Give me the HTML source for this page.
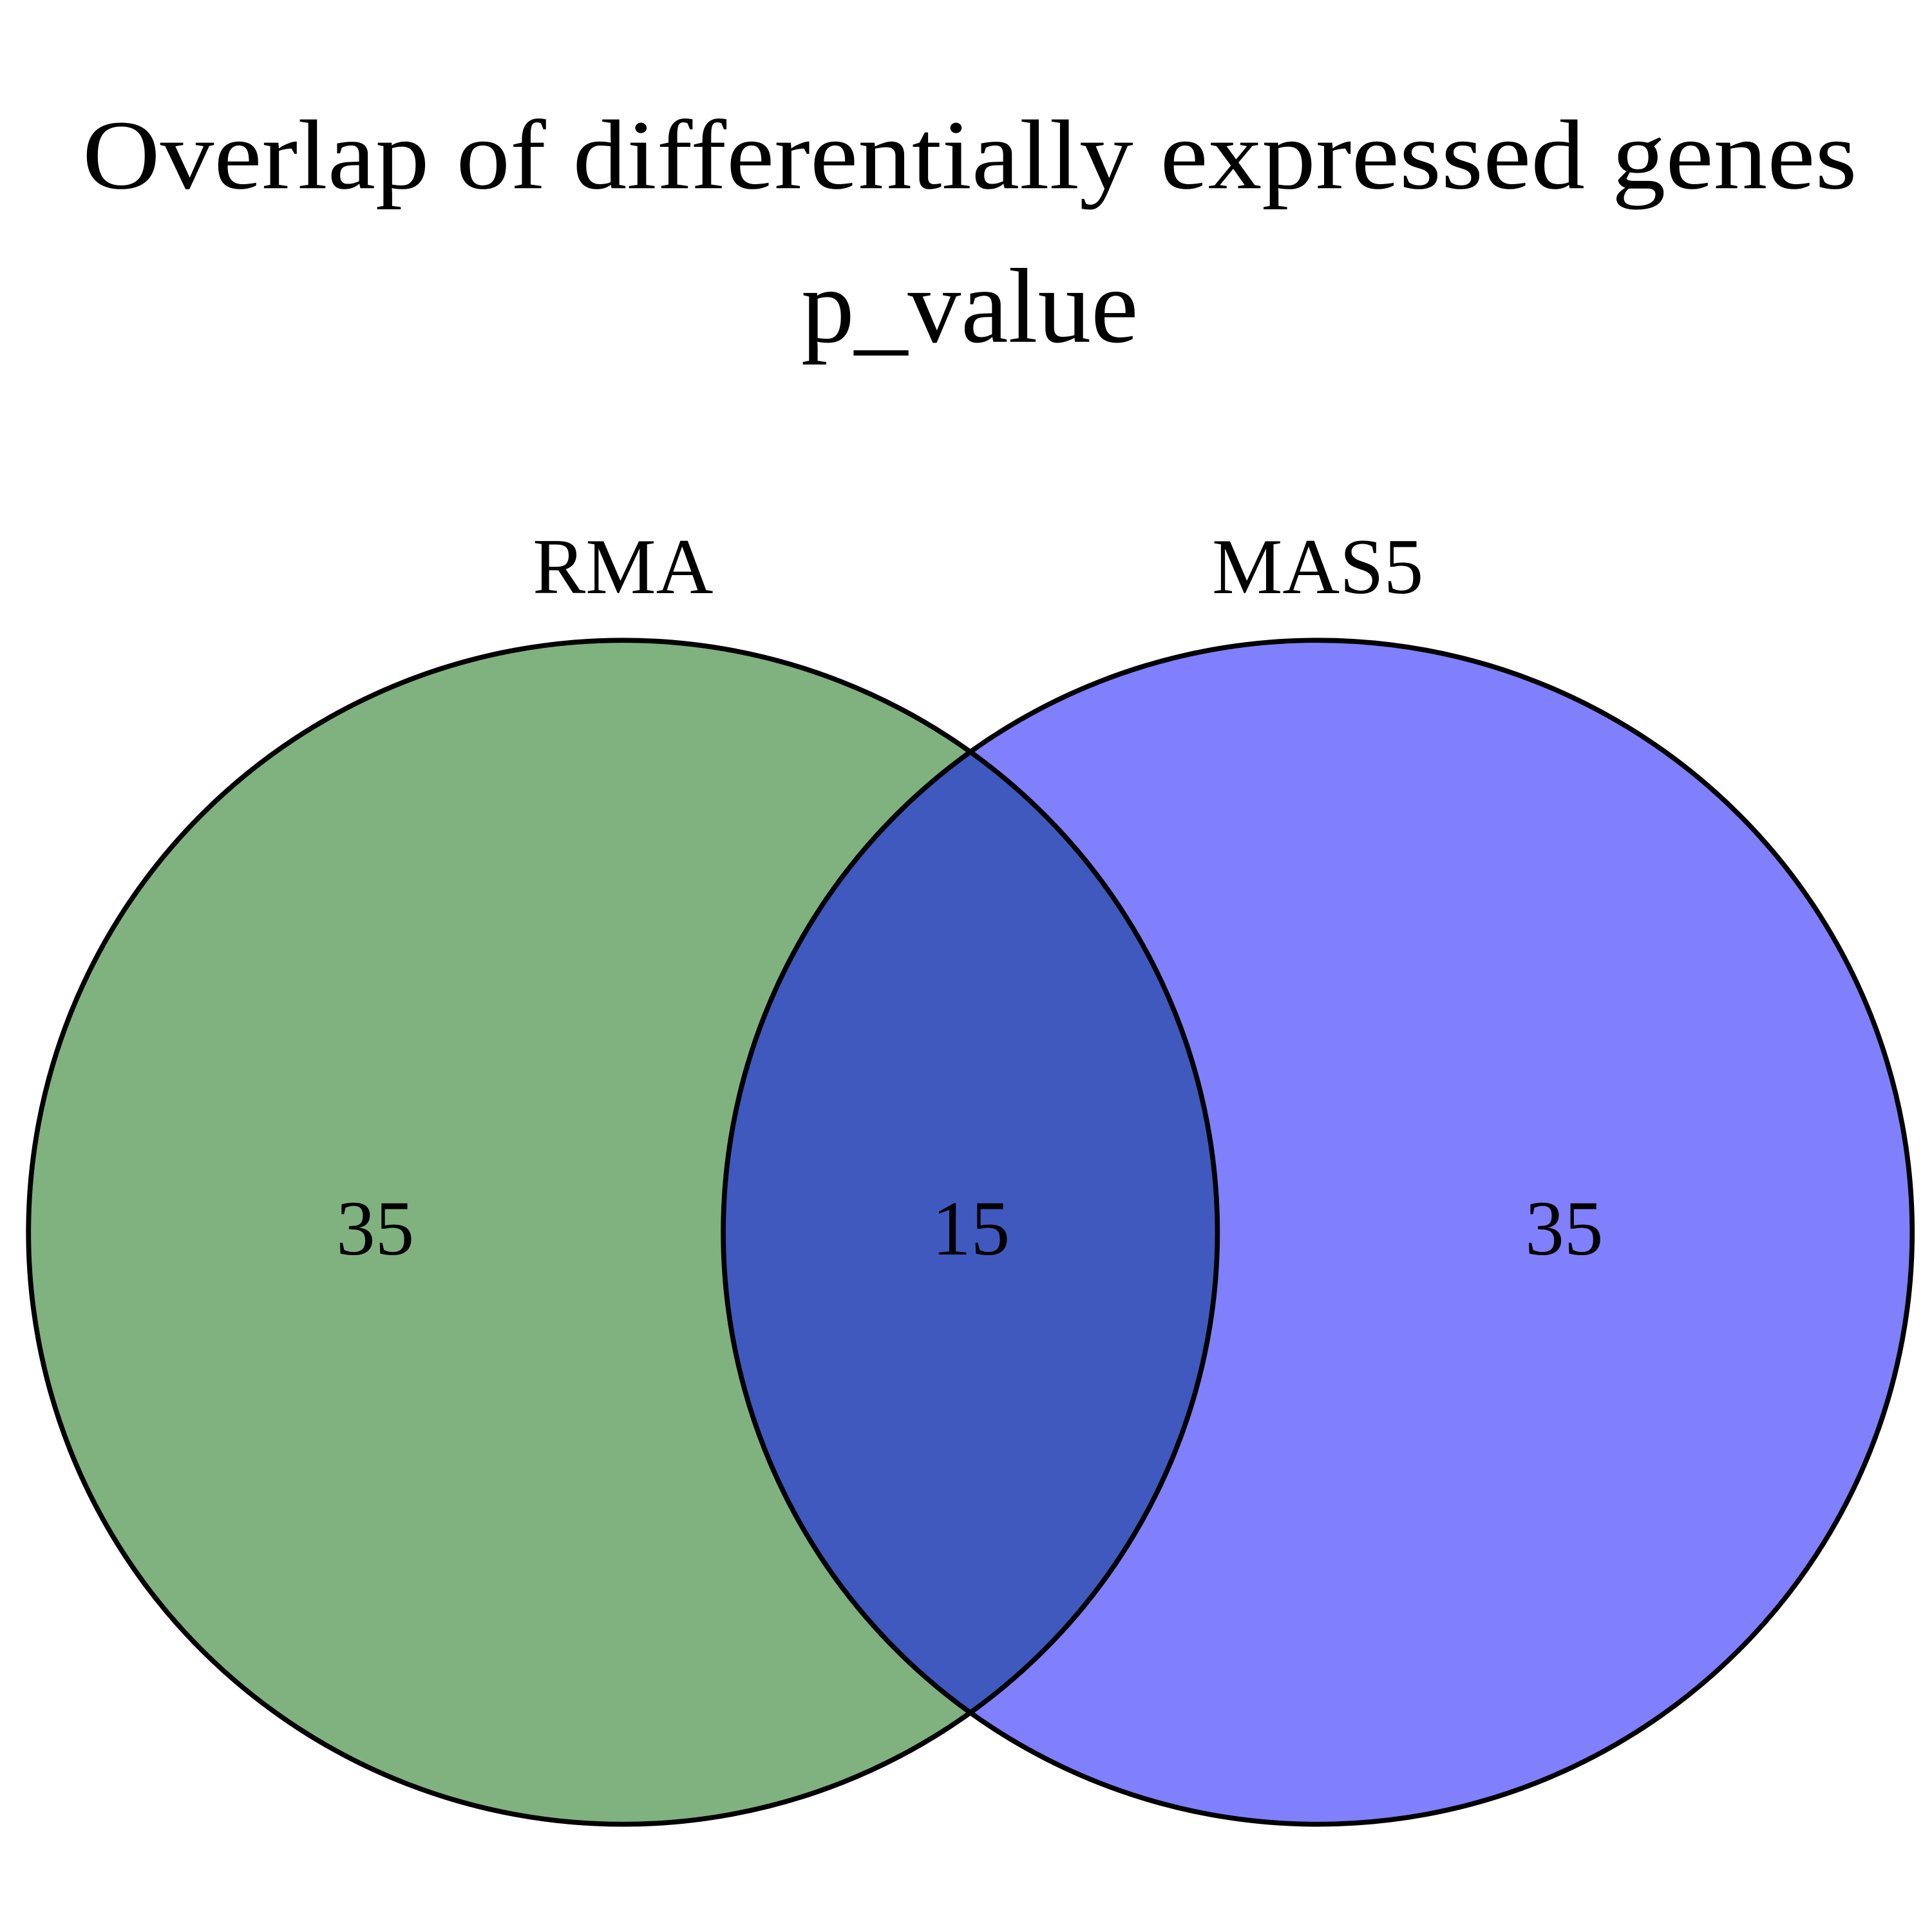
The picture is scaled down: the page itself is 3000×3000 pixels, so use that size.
<!DOCTYPE html>
<html>
<head>
<meta charset="utf-8">
<style>
html,body{margin:0;padding:0;background:#fff;}
svg{display:block;}
text{font-family:"Liberation Serif",serif;fill:#000;}
</style>
</head>
<body>
<svg id="chart" width="3000" height="3000" viewBox="0 0 1560 1560" xmlns="http://www.w3.org/2000/svg">
  <rect width="1560" height="1560" fill="#fff"/>
  <text x="783" y="152" text-anchor="middle" font-size="80" textLength="1433" lengthAdjust="spacingAndGlyphs">Overlap of differentially expressed genes</text>
  <text x="783" y="276" text-anchor="middle" font-size="86">p_value</text>
  <g id="venn"></g>
</svg>
<script>
const setNames = ["RMA", "MAS5"];
const setColors = ["#80B280", "#8080FC"];
const overlapColor = "#3F59BF";
const onlyCounts = [35, 35];
const overlapCount = 15;

const NS = "http://www.w3.org/2000/svg";
const g = document.getElementById("venn");
const cx = [503, 1064], cy = 995, rx = 480, ry = 478;

function mk(tag, attrs){ const e=document.createElementNS(NS,tag); for(const k in attrs) e.setAttribute(k,attrs[k]); return e; }

const defs = mk("defs",{});
const clip = mk("clipPath",{id:"clipA"});
clip.appendChild(mk("ellipse",{cx:cx[0],cy:cy,rx:rx,ry:ry}));
defs.appendChild(clip);
g.appendChild(defs);

setNames.forEach((n,i)=>{
  const e = mk("ellipse",{cx:cx[i],cy:cy,rx:rx,ry:ry,fill:setColors[i]});
  
  
  g.appendChild(e);
});
const ov = mk("ellipse",{cx:cx[1],cy:cy,rx:rx,ry:ry,fill:overlapColor,"clip-path":"url(#clipA)"});


g.appendChild(ov);
setNames.forEach((n,i)=>{
  const e = mk("ellipse",{cx:cx[i],cy:cy,rx:rx,ry:ry,fill:"none",stroke:"#000","stroke-width":4});
  
  
  g.appendChild(e);
  const t = mk("text",{x:cx[i],y:479,"text-anchor":"middle","font-size":64});
  t.textContent = n;
  
  
  g.appendChild(t);
});
const countX = [303, 1263];
onlyCounts.forEach((c,i)=>{
  const t = mk("text",{x:countX[i],y:1013,"text-anchor":"middle","font-size":63});
  t.textContent = c;
  
  
  g.appendChild(t);
});
const ot = mk("text",{x:784,y:1013,"text-anchor":"middle","font-size":63});
ot.textContent = overlapCount;


g.appendChild(ot);
</script>
</body>
</html>
